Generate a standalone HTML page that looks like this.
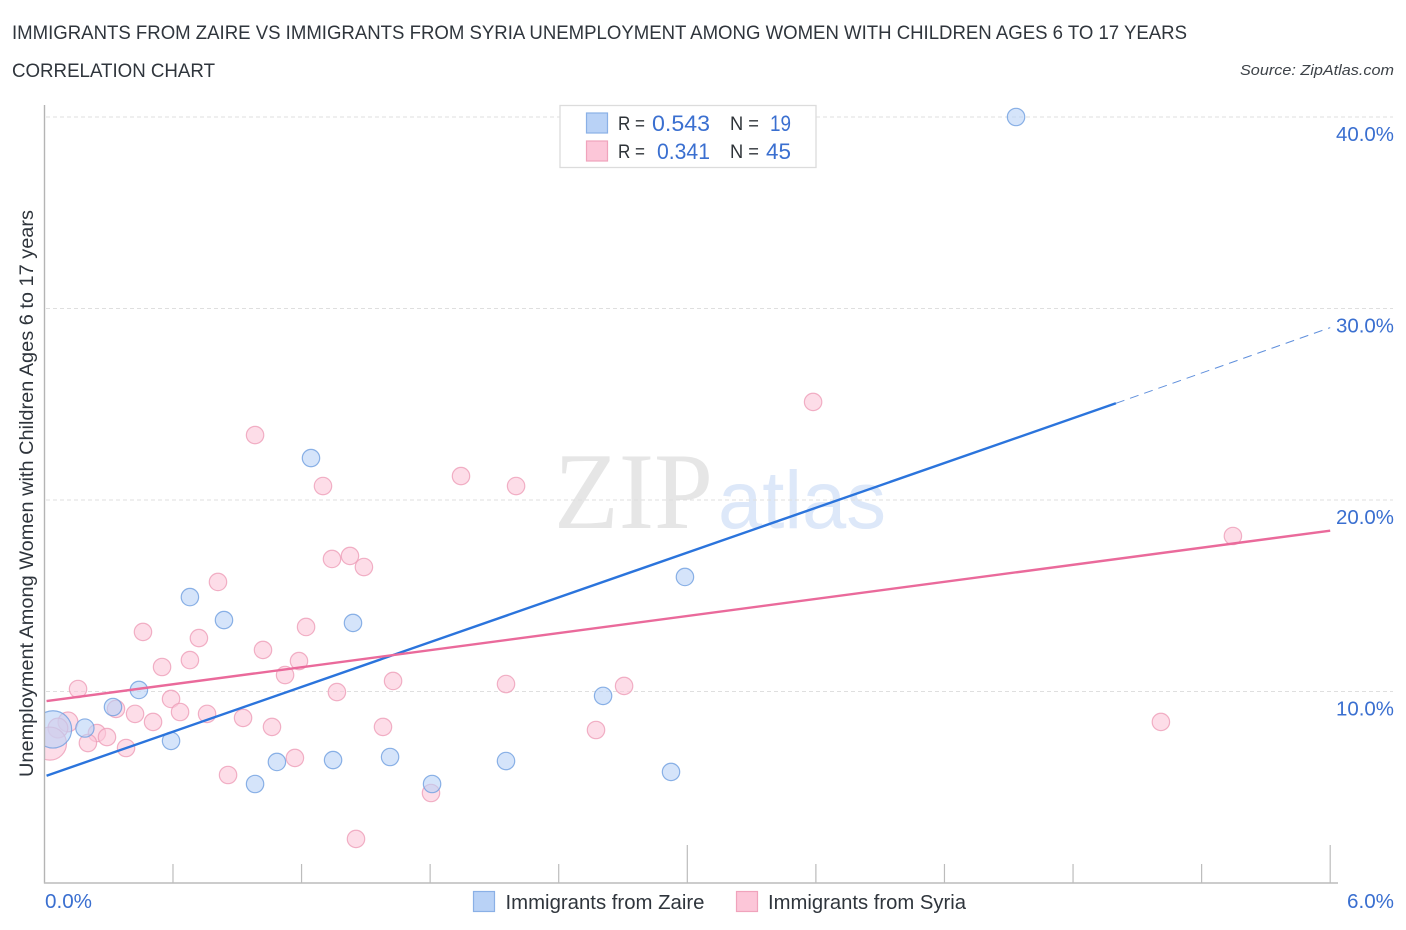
<!DOCTYPE html>
<html lang="en">
<head>
<meta charset="utf-8">
<title>Immigrants from Zaire vs Immigrants from Syria Correlation Chart</title>
<style>
html,body{margin:0;padding:0;background:#fff;width:1406px;height:930px;overflow:hidden}
svg{display:block;font-family:"Liberation Sans",sans-serif}
</style>
</head>
<body>
<svg id="chart" xmlns="http://www.w3.org/2000/svg" width="1406" height="930" viewBox="0 0 1406 930">
  <text x="12" y="39" font-size="19" fill="#2f353c" textLength="1175" lengthAdjust="spacingAndGlyphs">IMMIGRANTS FROM ZAIRE VS IMMIGRANTS FROM SYRIA UNEMPLOYMENT AMONG WOMEN WITH CHILDREN AGES 6 TO 17 YEARS</text>
  <text x="12" y="77" font-size="19" fill="#2f353c" textLength="203" lengthAdjust="spacingAndGlyphs">CORRELATION CHART</text>
  <text x="1394" y="75" font-size="15" font-style="italic" fill="#3d4248" text-anchor="end" textLength="154" lengthAdjust="spacingAndGlyphs">Source: ZipAtlas.com</text>

  <g>
    <text x="554" y="528" font-family="'Liberation Serif',serif" font-size="109" fill="#e6e6e6" textLength="159" lengthAdjust="spacingAndGlyphs">ZIP</text>
    <text x="718" y="528" font-size="82" fill="#dde8f9" textLength="168" lengthAdjust="spacingAndGlyphs">atlas</text>
  </g>

  <g id="grid"></g>
  <g id="points"></g>
  <rect x="0" y="100" width="44" height="783" fill="#fff"/>
  <g id="axes"></g>
  <g id="trends"></g>
  <g id="labels"></g>

  <text transform="translate(33,493.5) rotate(-90)" font-size="19" fill="#2f353c" text-anchor="middle" textLength="567" lengthAdjust="spacingAndGlyphs">Unemployment Among Women with Children Ages 6 to 17 years</text>

  <g>
    <rect x="560" y="105.5" width="256" height="62" fill="#fff" stroke="#dcdcdc" stroke-width="1.3"/>
    <rect x="586.5" y="113" width="21" height="20" fill="#b9d2f6" stroke="#8ab0e6" stroke-width="1.2"/>
    <rect x="586.5" y="141" width="21" height="20" fill="#fcc6d8" stroke="#f0a3bc" stroke-width="1.2"/>
    <g font-size="19" fill="#2e3338">
      <text x="618" y="130" textLength="27" lengthAdjust="spacingAndGlyphs">R =</text>
      <text x="618" y="158" textLength="27" lengthAdjust="spacingAndGlyphs">R =</text>
      <text x="730" y="130" textLength="29" lengthAdjust="spacingAndGlyphs">N =</text>
      <text x="730" y="158" textLength="29" lengthAdjust="spacingAndGlyphs">N =</text>
    </g>
    <g font-size="22" fill="#3a6fd0">
      <text x="652" y="131" textLength="58" lengthAdjust="spacingAndGlyphs">0.543</text>
      <text x="657" y="159" textLength="53" lengthAdjust="spacingAndGlyphs">0.341</text>
      <text x="770" y="131" textLength="21" lengthAdjust="spacingAndGlyphs">19</text>
      <text x="766" y="159" textLength="25" lengthAdjust="spacingAndGlyphs">45</text>
    </g>
  </g>

  <g>
    <rect x="473.5" y="891.5" width="21" height="20" fill="#b9d2f6" stroke="#8ab0e6" stroke-width="1.2"/>
    <text x="505.5" y="909" font-size="20" fill="#2f353c" textLength="199" lengthAdjust="spacingAndGlyphs">Immigrants from Zaire</text>
    <rect x="736.5" y="891.5" width="21" height="20" fill="#fcc6d8" stroke="#f0a3bc" stroke-width="1.2"/>
    <text x="768" y="909" font-size="20" fill="#2f353c" textLength="198" lengthAdjust="spacingAndGlyphs">Immigrants from Syria</text>
  </g>
</svg>
<script>
const xTickValues = [0.6, 1.2, 1.8, 2.4, 3.0, 3.6, 4.2, 4.8, 5.4, 6.0];
const xMajorTicks = [3.0, 6.0];
const xEndLabels = ['0.0%', '6.0%'];
const xEndValues = [0, 6];
const yGridValues = [10, 20, 30, 40];
const yTickLabels = ['10.0%', '20.0%', '30.0%', '40.0%'];

const zaireX = [4.534, 1.244, 0.679, 0.838, 1.440, 2.989, 2.607, 0.441, 0.320, 0.189, 0.591, 0.040, 1.085, 1.347, 1.613, 2.154, 2.924, 1.809, 0.983];
const zaireY = [40.0, 22.19, 14.93, 13.73, 13.58, 15.98, 9.77, 10.08, 9.19, 8.09, 7.42, 8.02, 6.32, 6.42, 6.58, 6.37, 5.80, 5.17, 5.17];
const zaireWeight = [1, 1, 1, 1, 1, 1, 1, 1, 1, 1.1, 1, 4.6, 1, 1, 1, 1, 1, 1, 1];

const syriaX = [3.587, 0.983, 1.944, 2.201, 1.300, 5.546, 1.426, 1.342, 1.491, 0.810, 1.221, 0.460, 0.721, 1.020, 0.679, 0.549, 1.188, 1.123, 0.157, 1.365, 1.627, 2.154, 2.705, 0.591, 0.334, 0.423, 0.633, 0.759, 0.507, 0.927, 1.062, 1.580, 2.574, 5.210, 0.110, 0.063, 0.245, 0.292, 0.203, 0.381, 0.026, 1.169, 0.857, 1.804, 1.454];
const syriaY = [25.12, 23.39, 21.25, 20.73, 20.73, 18.12, 17.08, 16.92, 16.50, 15.72, 13.37, 13.11, 12.79, 12.17, 11.64, 11.28, 11.59, 10.86, 10.13, 9.97, 10.55, 10.39, 10.29, 9.61, 9.09, 8.83, 8.93, 8.83, 8.41, 8.62, 8.15, 8.15, 7.99, 8.41, 8.41, 8.09, 7.83, 7.62, 7.31, 7.05, 7.28, 6.53, 5.64, 4.70, 2.30];
const syriaWeight = [1, 1, 1, 1, 1, 1, 1, 1, 1, 1, 1, 1, 1, 1, 1, 1, 1, 1, 1, 1, 1, 1, 1, 1, 1, 1, 1, 1, 1, 1, 1, 1, 1, 1, 1.3, 1.3, 1, 1, 1, 1, 3.6, 1, 1, 1, 1];

const zaireTrendX = [0.01, 5.0];
const zaireTrendY = [5.6, 25.05];
const zaireDashX = [5.0, 6.0];
const zaireDashY = [25.05, 29.0];
const syriaTrendX = [0.01, 6.0];
const syriaTrendY = [9.5, 18.4];

const NS = 'http://www.w3.org/2000/svg';
function sx(v) { return 44.4 + v * 214.3; }
function sy(v) { return 883 - v * 19.15; }
function make(parent, tag, attrs) {
  const el = document.createElementNS(NS, tag);
  for (const k in attrs) el.setAttribute(k, attrs[k]);
  document.getElementById(parent).appendChild(el);
  return el;
}

yGridValues.forEach(function (v) {
  const el = make('grid', 'line', {x1: 46, x2: 1393, y1: sy(v), y2: sy(v), stroke: '#dfdfdf', 'stroke-width': 1, 'stroke-dasharray': '4 3'});
  
  
});

const yAxis = make('axes', 'line', {x1: 44.5, x2: 44.5, y1: 105, y2: 883.5, stroke: '#b4b4b4', 'stroke-width': 1.4});


const xAxis = make('axes', 'line', {x1: 44, x2: 1338, y1: 883, y2: 883, stroke: '#bcbcbc', 'stroke-width': 1.6});



xTickValues.forEach(function (v) {
  const top = xMajorTicks.indexOf(v) >= 0 ? 845 : 864;
  const el = make('axes', 'line', {x1: sx(v), x2: sx(v), y1: top, y2: 883, stroke: '#bcbcbc', 'stroke-width': 1.2});
  
  
});

function drawPoints(xs, ys, weights, fill, stroke, name) {
  xs.forEach(function (x, i) {
    const c = make('points', 'circle', {cx: sx(x), cy: sy(ys[i]), r: 8.7 * Math.sqrt(weights[i]), fill: fill, 'fill-opacity': 0.6, stroke: stroke, 'stroke-opacity': 0.8, 'stroke-width': 1.2});
    
    
  });
}
drawPoints(syriaX, syriaY, syriaWeight, '#fcc6d8', '#ee9db8', 'syria-point');
drawPoints(zaireX, zaireY, zaireWeight, '#b9d2f6', '#6f9fe0', 'zaire-point');

const t1 = make('trends', 'line', {x1: sx(zaireTrendX[0]), y1: sy(zaireTrendY[0]), x2: sx(zaireTrendX[1]), y2: sy(zaireTrendY[1]), stroke: '#2b74dc', 'stroke-width': 2.4});


const t2 = make('trends', 'line', {x1: sx(zaireDashX[0]), y1: sy(zaireDashY[0]), x2: sx(zaireDashX[1]), y2: sy(zaireDashY[1]), stroke: '#5f8fdc', 'stroke-width': 1, 'stroke-dasharray': '9 6'});


const t3 = make('trends', 'line', {x1: sx(syriaTrendX[0]), y1: sy(syriaTrendY[0]), x2: sx(syriaTrendX[1]), y2: sy(syriaTrendY[1]), stroke: '#ea6a9b', 'stroke-width': 2.4});



yGridValues.forEach(function (v, i) {
  const el = make('labels', 'text', {x: 1394, y: sy(v) + 24, 'font-size': 20, fill: '#3a6fd0', 'text-anchor': 'end', textLength: 58, lengthAdjust: 'spacingAndGlyphs'});
  el.textContent = yTickLabels[i];
  
  
});
xEndValues.forEach(function (v, i) {
  const el = make('labels', 'text', {x: i === 0 ? 45 : 1394, y: 908, 'font-size': 20, fill: '#3a6fd0', 'text-anchor': i === 0 ? 'start' : 'end', textLength: 47, lengthAdjust: 'spacingAndGlyphs'});
  el.textContent = xEndLabels[i];
  
  
});
</script>
</body>
</html>
